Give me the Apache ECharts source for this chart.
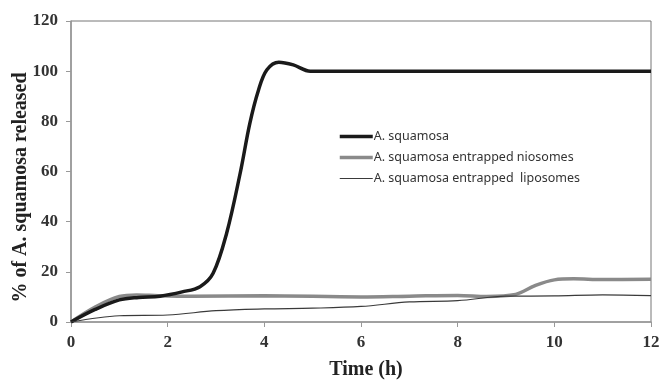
<!DOCTYPE html>
<html>
<head>
<meta charset="utf-8">
<script src="https://cdn.jsdelivr.net/npm/echarts@6/dist/echarts.min.js"></script>
<style>html,body{margin:0;padding:0;background:#fff}#c{width:660px;height:384px}</style>
</head>
<body>
<div id="c"></div>
<script>
var xTicks = [0, 2, 4, 6, 8, 10, 12];
var yTicks = [0, 20, 40, 60, 80, 100, 120];

var seriesNames = ["A. squamosa", "A. squamosa entrapped niosomes", "A. squamosa entrapped  liposomes"];

var timeSquamosa = [0, 0.5, 1, 1.4, 1.84, 2.3, 2.67, 2.94, 3.22, 3.5, 3.7, 3.88, 4.05, 4.3, 4.6, 4.95, 5.5, 6, 8, 10, 12];
var valSquamosa  = [0, 5, 8.8, 9.8, 10.3, 12, 14.1, 19.4, 35.4, 59.3, 79.2, 92.5, 100.5, 103.6, 102.5, 100, 100, 100, 100, 100, 100];

var timeNiosomes = [0, 0.5, 1, 1.36, 1.8, 2.5, 4, 6, 7, 8, 8.6, 9.2, 9.6, 10, 10.4, 11, 12];
var valNiosomes  = [0, 6, 10.2, 10.8, 10.5, 10.3, 10.5, 10, 10.3, 10.6, 10.2, 11, 14.5, 16.8, 17.2, 16.9, 17];

var timeLiposomes = [0, 1, 2, 3, 4, 5, 6, 7, 8, 9, 10, 11, 12];
var valLiposomes  = [0, 2.5, 2.8, 4.5, 5.2, 5.5, 6.2, 8, 8.5, 10.3, 10.4, 10.8, 10.5];

function pairs(xs, ys) { return xs.map(function (x, i) { return [x, ys[i]]; }); }

var colors = ['#1a1a1a', '#8a8a8a', '#3a3a3a'];
var widths = [3.5, 3.5, 1.2];

var chart = echarts.init(document.getElementById('c'));
var axisLabelStyle = { fontFamily: 'Liberation Serif', fontWeight: 'bold', fontSize: 17, color: '#333' };
chart.setOption({
  animation: false,
  grid: { left: 71, right: 9, top: 21, bottom: 62, show: true, borderColor: '#777', borderWidth: 1,
          containLabel: false, outerBoundsMode: 'none' },
  legend: {
    orient: 'vertical', left: 333, top: 125, itemGap: 8, itemWidth: 33, itemHeight: 14,
    itemStyle: { opacity: 0 },
    textStyle: { fontFamily: 'Noto Sans', fontSize: 12.5, color: '#333', padding: [0, 0, 0, -4] },
    data: seriesNames.map(function (n, i) {
      return { name: n, lineStyle: { color: colors[i], width: widths[i] } };
    })
  },
  xAxis: {
    type: 'value', min: 0, max: 12, interval: 2,
    name: 'Time (h)', nameLocation: 'middle', nameGap: 38, nameMoveOverlap: false,
    nameTextStyle: { fontFamily: 'Liberation Serif', fontWeight: 'bold', fontSize: 20, color: '#222', padding: [0, 0, 0, 10] },
    axisLine: { lineStyle: { color: '#999', width: 1.5 } },
    axisTick: { show: true, length: 5, lineStyle: { color: '#999' } },
    axisLabel: Object.assign({ margin: 12 }, axisLabelStyle),
    splitLine: { show: false }
  },
  yAxis: {
    type: 'value', min: 0, max: 120, interval: 20,
    name: '% of A. squamosa released', nameLocation: 'middle', nameGap: 40, nameMoveOverlap: false,
    nameTextStyle: { fontFamily: 'Liberation Serif', fontWeight: 'bold', fontSize: 20, color: '#222', padding: [0, 32, 0, 0] },
    axisLine: { show: true, lineStyle: { color: '#999', width: 1.5 } },
    axisTick: { show: true, length: 5, lineStyle: { color: '#999' } },
    axisLabel: Object.assign({ margin: 13 }, axisLabelStyle),
    splitLine: { show: false }
  },
  series: [
    { name: seriesNames[0], type: 'line', smooth: 0.35, symbol: 'none',
      lineStyle: { color: colors[0], width: widths[0] }, itemStyle: { color: colors[0] },
      data: pairs(timeSquamosa, valSquamosa), z: 3 },
    { name: seriesNames[1], type: 'line', smooth: 0.35, symbol: 'none',
      lineStyle: { color: colors[1], width: widths[1] }, itemStyle: { color: colors[1] },
      data: pairs(timeNiosomes, valNiosomes), z: 2 },
    { name: seriesNames[2], type: 'line', smooth: 0.35, symbol: 'none',
      lineStyle: { color: colors[2], width: widths[2] }, itemStyle: { color: colors[2] },
      data: pairs(timeLiposomes, valLiposomes), z: 4 }
  ]
});
</script>
</body>
</html>
